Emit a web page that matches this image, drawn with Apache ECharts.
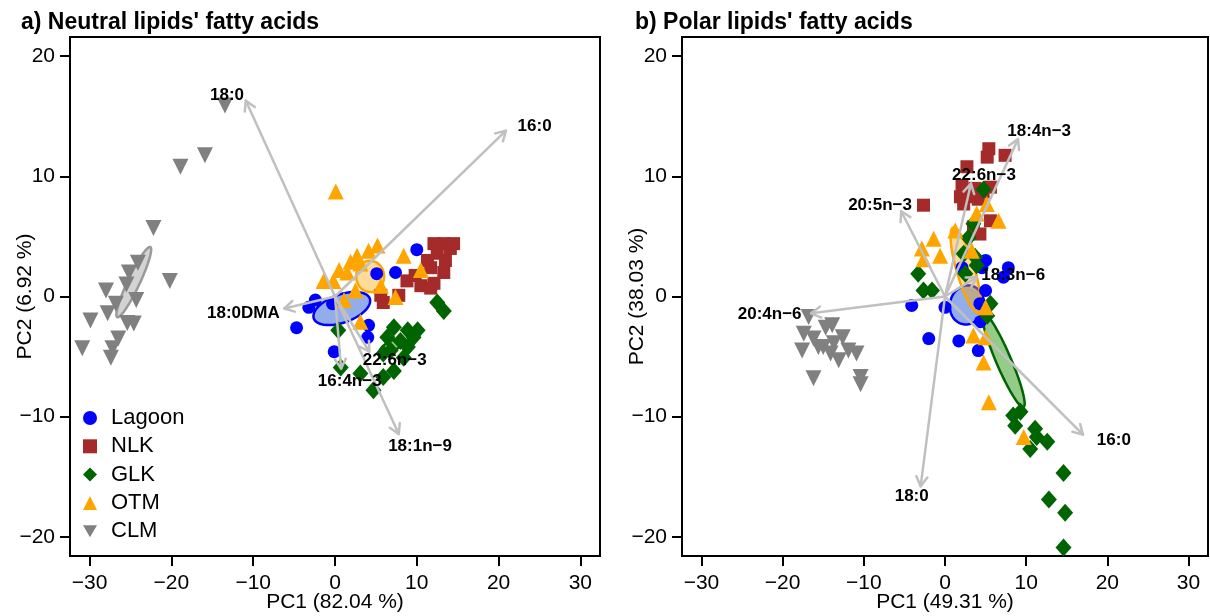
<!DOCTYPE html>
<html><head><meta charset="utf-8">
<script src="https://cdn.jsdelivr.net/npm/echarts@6/dist/echarts.min.js"></script>
<style>html,body{margin:0;padding:0;background:#fff}#c{width:1210px;height:616px}</style>
</head><body><div id="c"></div>
<script>
// ---------- data ----------
const groups = ['Lagoon','NLK','GLK','OTM','CLM'];
const xTicks = [-30,-20,-10,0,10,20,30];
const yTicks = [-20,-10,0,10,20];

// panel a: neutral lipids
const lagoonA = [[10.0,3.9],[5.1,1.9],[7.4,2.0],[-2.4,-0.3],[-3.2,-0.9],[-4.7,-2.6],[-0.3,-0.6],[4.1,-2.4],[4.0,-3.4],[-0.1,-4.6]];
const nlkA = [[13.3,4.4],[12.1,4.4],[14.1,4.0],[14.5,4.4],[12.5,3.6],[11.3,3.0],[13.5,3.0],[11.7,2.4],[13.3,2.0],[9.8,1.75],[8.8,1.3],[12.1,1.1],[10.5,0.9],[11.7,0.7],[5.6,0.1],[7.8,0.1],[5.9,-0.5]];
const glkA = [[12.5,-0.5],[13.3,-1.2],[0.4,-2.8],[7.2,-2.55],[8.9,-2.8],[10.1,-2.8],[6.4,-3.4],[8.0,-3.7],[9.6,-3.4],[6.8,-4.5],[5.9,-4.75],[8.9,-4.2],[8.4,-5.1],[0.7,-5.9],[3.1,-6.4],[7.2,-6.2],[5.9,-6.7],[4.7,-7.8]];
const otmA = [[0.1,8.75],[5.2,4.25],[4.1,3.8],[2.7,3.4],[8.4,3.4],[1.9,2.9],[3.1,2.75],[0.5,2.2],[1.5,2.0],[-1.4,1.3],[-0.2,1.3],[10.5,2.2],[2.5,0.5],[5.6,0.9],[1.1,-0.3],[7.4,-0.05],[3.1,-2.1]];
const clmA = [[-13.46,15.9],[-15.9,11.75],[-18.9,10.8],[-22.2,5.7],[-20.2,1.3],[-24.1,2.8],[-25.2,2.0],[-28.0,0.5],[-24.3,-0.3],[-26.8,-0.6],[-27.8,-1.4],[-29.9,-2.0],[-25.4,-2.2],[-24.6,-2.25],[-26.5,-3.5],[-30.9,-4.3],[-27.4,-5.1],[-27.2,-4.3],[-25.5,1.0]];
const loadNamesA = ['18:0','16:0','18:0DMA','16:4n\u22123','22:6n\u22123','18:1n\u22129'];
const loadTipsA = [[-10.9,16.3],[20.9,13.8],[-6.2,-1.0],[0.75,-6.0],[4.2,-4.6],[7.8,-11.45]];
const loadLabA = [[-13.2,16.75],[24.4,14.2],[-11.2,-1.4],[1.8,-7.1],[7.3,-5.3],[10.4,-12.45]];
const ellipsesA = [
  {g:'Lagoon', c:[0.83,-1.0], u:[3.42,0.83], v:[0.575,-1.1]},
  {g:'GLK', c:[7.0,-4.1], u:[1.47,0.5], v:[0.27,-0.37]},
  {g:'OTM', c:[4.3,1.67], u:[1.7,0], v:[0,1.3]},
  {g:'CLM', c:[-24.6,1.2], u:[2.02,2.92], v:[0.66,-0.21]}
];

// panel b: polar lipids
const lagoonB = [[5.0,3.0],[7.8,2.4],[2.1,2.4],[4.55,2.4],[7.2,1.6],[4.3,-0.6],[-4.1,-0.75],[0.0,-0.9],[-2.0,-3.5],[1.7,-3.7],[4.1,-4.5],[4.35,-2.1],[5.0,0.5]];
const nlkB = [[5.4,12.3],[5.2,11.6],[7.4,11.75],[2.7,10.8],[2.1,9.25],[3.7,9.0],[5.6,9.1],[1.9,8.3],[2.9,8.3],[4.1,8.1],[4.7,8.7],[2.3,7.7],[-2.65,7.6],[5.6,6.3],[3.5,5.8],[4.3,5.2]];
const glkB = [[4.75,8.9],[3.5,6.05],[2.9,4.9],[2.3,3.55],[3.7,3.3],[3.9,2.6],[2.5,1.9],[-3.3,1.9],[-2.65,0.5],[-1.6,0.5],[5.6,-0.6],[5.2,-1.6],[9.3,-9.6],[8.4,-9.9],[8.65,-10.75],[11.1,-11.0],[11.3,-11.7],[12.6,-12.1],[10.5,-12.7],[14.6,-14.7],[12.8,-16.9],[14.8,-18.0],[14.6,-20.9]];
const otmB = [[-1.4,4.8],[-2.85,4.0],[-0.6,3.4],[-2.65,3.1],[3.9,6.9],[6.6,6.3],[5.15,7.7],[1.26,5.5],[3.3,3.8],[3.5,-3.25],[5.0,-3.4],[4.75,-5.5],[5.4,-8.8],[9.7,-11.7],[5.0,-0.9]];
const clmB = [[-16.8,-1.7],[-17.4,-3.1],[-17.6,-4.5],[-16.2,-3.5],[-14.7,-2.6],[-13.9,-2.4],[-15.0,-4.2],[-14.1,-4.75],[-13.1,-5.3],[-12.6,-3.4],[-11.9,-4.5],[-10.9,-4.75],[-16.2,-6.8],[-10.4,-6.7],[-10.4,-7.3],[-15.6,-4.2],[-13.7,-3.9]];
const loadNamesB = ['18:4n\u22123','22:6n\u22123','20:5n\u22123','18:3n\u22126','20:4n\u22126','16:0','18:0'];
const loadTipsB = [[9.0,13.1],[3.2,9.4],[-5.4,7.1],[3.9,1.6],[-16.5,-1.4],[17.0,-11.5],[-3.0,-15.8]];
const loadLabB = [[11.6,13.75],[4.8,10.1],[-8.0,7.6],[8.4,1.75],[-21.6,-1.45],[20.8,-12.0],[-4.1,-16.65]];
const ellipsesB = [
  {g:'Lagoon', c:[2.7,-0.7], u:[2.1,0.3], v:[-0.25,1.6]},
  {g:'GLK', c:[7.2,-5.3], u:[2.47,-3.9], v:[0.85,0.24]},
  {g:'OTM', c:[2.55,2.2], u:[-1.54,3.54], v:[1.06,0.21]}
];

// ---------- styles ----------
const FONT = '"Liberation Sans", Arial, sans-serif';
const colors = {Lagoon:'#0000FF', NLK:'#A52A2A', GLK:'#006400', OTM:'#FFA500', CLM:'#808080'};
const downTri = 'path://M0,0L10,0L5,8.66Z';
const symbols = {Lagoon:'circle', NLK:'rect', GLK:'diamond', OTM:'triangle', CLM:downTri};
const symSizes = {Lagoon:13, NLK:13, GLK:[16,18], OTM:16, CLM:16};
const ellStyle = {
  Lagoon:{fill:'rgba(110,145,225,0.75)', stroke:'#0000FF'},
  GLK:{fill:'rgba(60,160,40,0.55)', stroke:'#006400'},
  OTM:{fill:'rgba(255,165,0,0.4)', stroke:'#FFA500'},
  CLM:{fill:'rgba(200,200,200,0.8)', stroke:'#9a9a9a'},
  NLK:{fill:'rgba(165,42,42,0.4)', stroke:'#A52A2A'}
};
const minus = v => String(v).replace('-', '\u2212');

function xAxis(idx, name){
  return {type:'value', gridIndex:idx, min:-32.4, max:32.4,
    splitLine:{show:false},
    axisLine:{show:true, onZero:false, lineStyle:{color:'#000', width:2}},
    axisTick:{show:true, length:10, customValues:xTicks, lineStyle:{color:'#000', width:2}},
    axisLabel:{customValues:xTicks, fontSize:21, color:'#000', margin:17, fontFamily:FONT, formatter:minus},
    name:name, nameLocation:'middle', nameGap:36, nameMoveOverlap:false,
    nameTextStyle:{fontSize:21, color:'#000', fontFamily:FONT}};
}
function yAxis(idx, name){
  return {type:'value', gridIndex:idx, min:-21.6, max:21.6,
    splitLine:{show:false},
    axisLine:{show:true, onZero:false, lineStyle:{color:'#000', width:2}},
    axisTick:{show:true, length:10, customValues:yTicks, lineStyle:{color:'#000', width:2}},
    axisLabel:{customValues:yTicks, fontSize:21, color:'#000', margin:15, fontFamily:FONT, formatter:minus},
    name:name, nameLocation:'middle', nameGap:34, nameMoveOverlap:false,
    nameTextStyle:{fontSize:21, color:'#000', fontFamily:FONT}};
}

function ellipseSeries(e, idx){
  const st = ellStyle[e.g];
  return {type:'custom', xAxisIndex:idx, yAxisIndex:idx, silent:true, z:2,
    data:[[e.c[0], e.c[1]]],
    renderItem:(p, api)=>{
      const pts=[];
      for(let k=0;k<90;k++){
        const t=2*Math.PI*k/90, c=Math.cos(t), s=Math.sin(t);
        pts.push(api.coord([e.c[0]+e.u[0]*c+e.v[0]*s, e.c[1]+e.u[1]*c+e.v[1]*s]));
      }
      return {type:'polygon', shape:{points:pts}, style:{fill:st.fill, stroke:st.stroke, lineWidth:2.5}};
    }};
}
function arrowSeries(tips, idx){
  return {type:'custom', xAxisIndex:idx, yAxisIndex:idx, silent:true, z:5,
    data:tips,
    renderItem:(p, api)=>{
      const o=api.coord([0,0]), t=api.coord([api.value(0), api.value(1)]);
      const ang=Math.atan2(t[1]-o[1], t[0]-o[0]), L=11, a=Math.PI/6;
      const p1=[t[0]-L*Math.cos(ang-a), t[1]-L*Math.sin(ang-a)];
      const p2=[t[0]-L*Math.cos(ang+a), t[1]-L*Math.sin(ang+a)];
      const st={stroke:'#c0c0c0', lineWidth:2.5, fill:null, lineCap:'round', lineJoin:'round'};
      return {type:'group', children:[
        {type:'line', shape:{x1:o[0],y1:o[1],x2:t[0],y2:t[1]}, style:st},
        {type:'polyline', shape:{points:[p1,t,p2]}, style:st}
      ]};
    }};
}
function labelSeries(pos, names, idx){
  return {type:'custom', xAxisIndex:idx, yAxisIndex:idx, silent:true, z:6,
    data:pos,
    renderItem:(p, api)=>{
      const c=api.coord([api.value(0), api.value(1)]);
      return {type:'text', x:c[0], y:c[1], style:{text:names[p.dataIndex], textAlign:'center', textVerticalAlign:'middle',
        font:'bold 17px '+FONT, fill:'#000'}};
    }};
}

function panelSeries(idx, pts, ells, tips, labs, names){
  const out=[];
  groups.forEach((g,gi)=>{
    out.push({type:'scatter', name:g, xAxisIndex:idx, yAxisIndex:idx, data:pts[gi], z:2,
      symbol:symbols[g], symbolSize:symSizes[g], itemStyle:{color:colors[g], opacity:1}, silent:true});
    ells.filter(e=>e.g===g).forEach(e=>out.push(ellipseSeries(e, idx)));
  });
  out.push(arrowSeries(tips, idx));
  out.push(labelSeries(labs, names, idx));
  return out;
}

const chart = echarts.init(document.getElementById('c'), null, {renderer:'canvas'});
chart.setOption({
  animation:false,
  backgroundColor:'#fff',
  title:[
    {text:"a) Neutral lipids' fatty acids", left:21, top:11, padding:0, textStyle:{fontSize:23, fontWeight:'bold', color:'#000', fontFamily:FONT}},
    {text:"b) Polar lipids' fatty acids", left:635, top:11, padding:0, textStyle:{fontSize:23, fontWeight:'bold', color:'#000', fontFamily:FONT}}
  ],
  legend:{left:78, top:402, orient:'vertical', itemWidth:14, itemHeight:14, itemGap:6.3, selectedMode:false,
    textStyle:{fontSize:22, color:'#000', fontFamily:FONT, padding:[0,0,0,9]},
    data:groups.map(g=>({name:g, icon:symbols[g], itemStyle:{color:colors[g]}}))},
  grid:[
    {left:70, top:37, width:530, height:519, show:true, borderColor:'#000', borderWidth:2, backgroundColor:'transparent', outerBoundsMode:'none', containLabel:false},
    {left:682, top:37, width:526, height:519, show:true, borderColor:'#000', borderWidth:2, backgroundColor:'transparent', outerBoundsMode:'none', containLabel:false}
  ],
  xAxis:[xAxis(0,'PC1 (82.04 %)'), xAxis(1,'PC1 (49.31 %)')],
  yAxis:[yAxis(0,'PC2 (6.92 %)'), yAxis(1,'PC2 (38.03 %)')],
  series:[
    ...panelSeries(0, [lagoonA,nlkA,glkA,otmA,clmA], ellipsesA, loadTipsA, loadLabA, loadNamesA),
    ...panelSeries(1, [lagoonB,nlkB,glkB,otmB,clmB], ellipsesB, loadTipsB, loadLabB, loadNamesB)
  ]
});
</script></body></html>
